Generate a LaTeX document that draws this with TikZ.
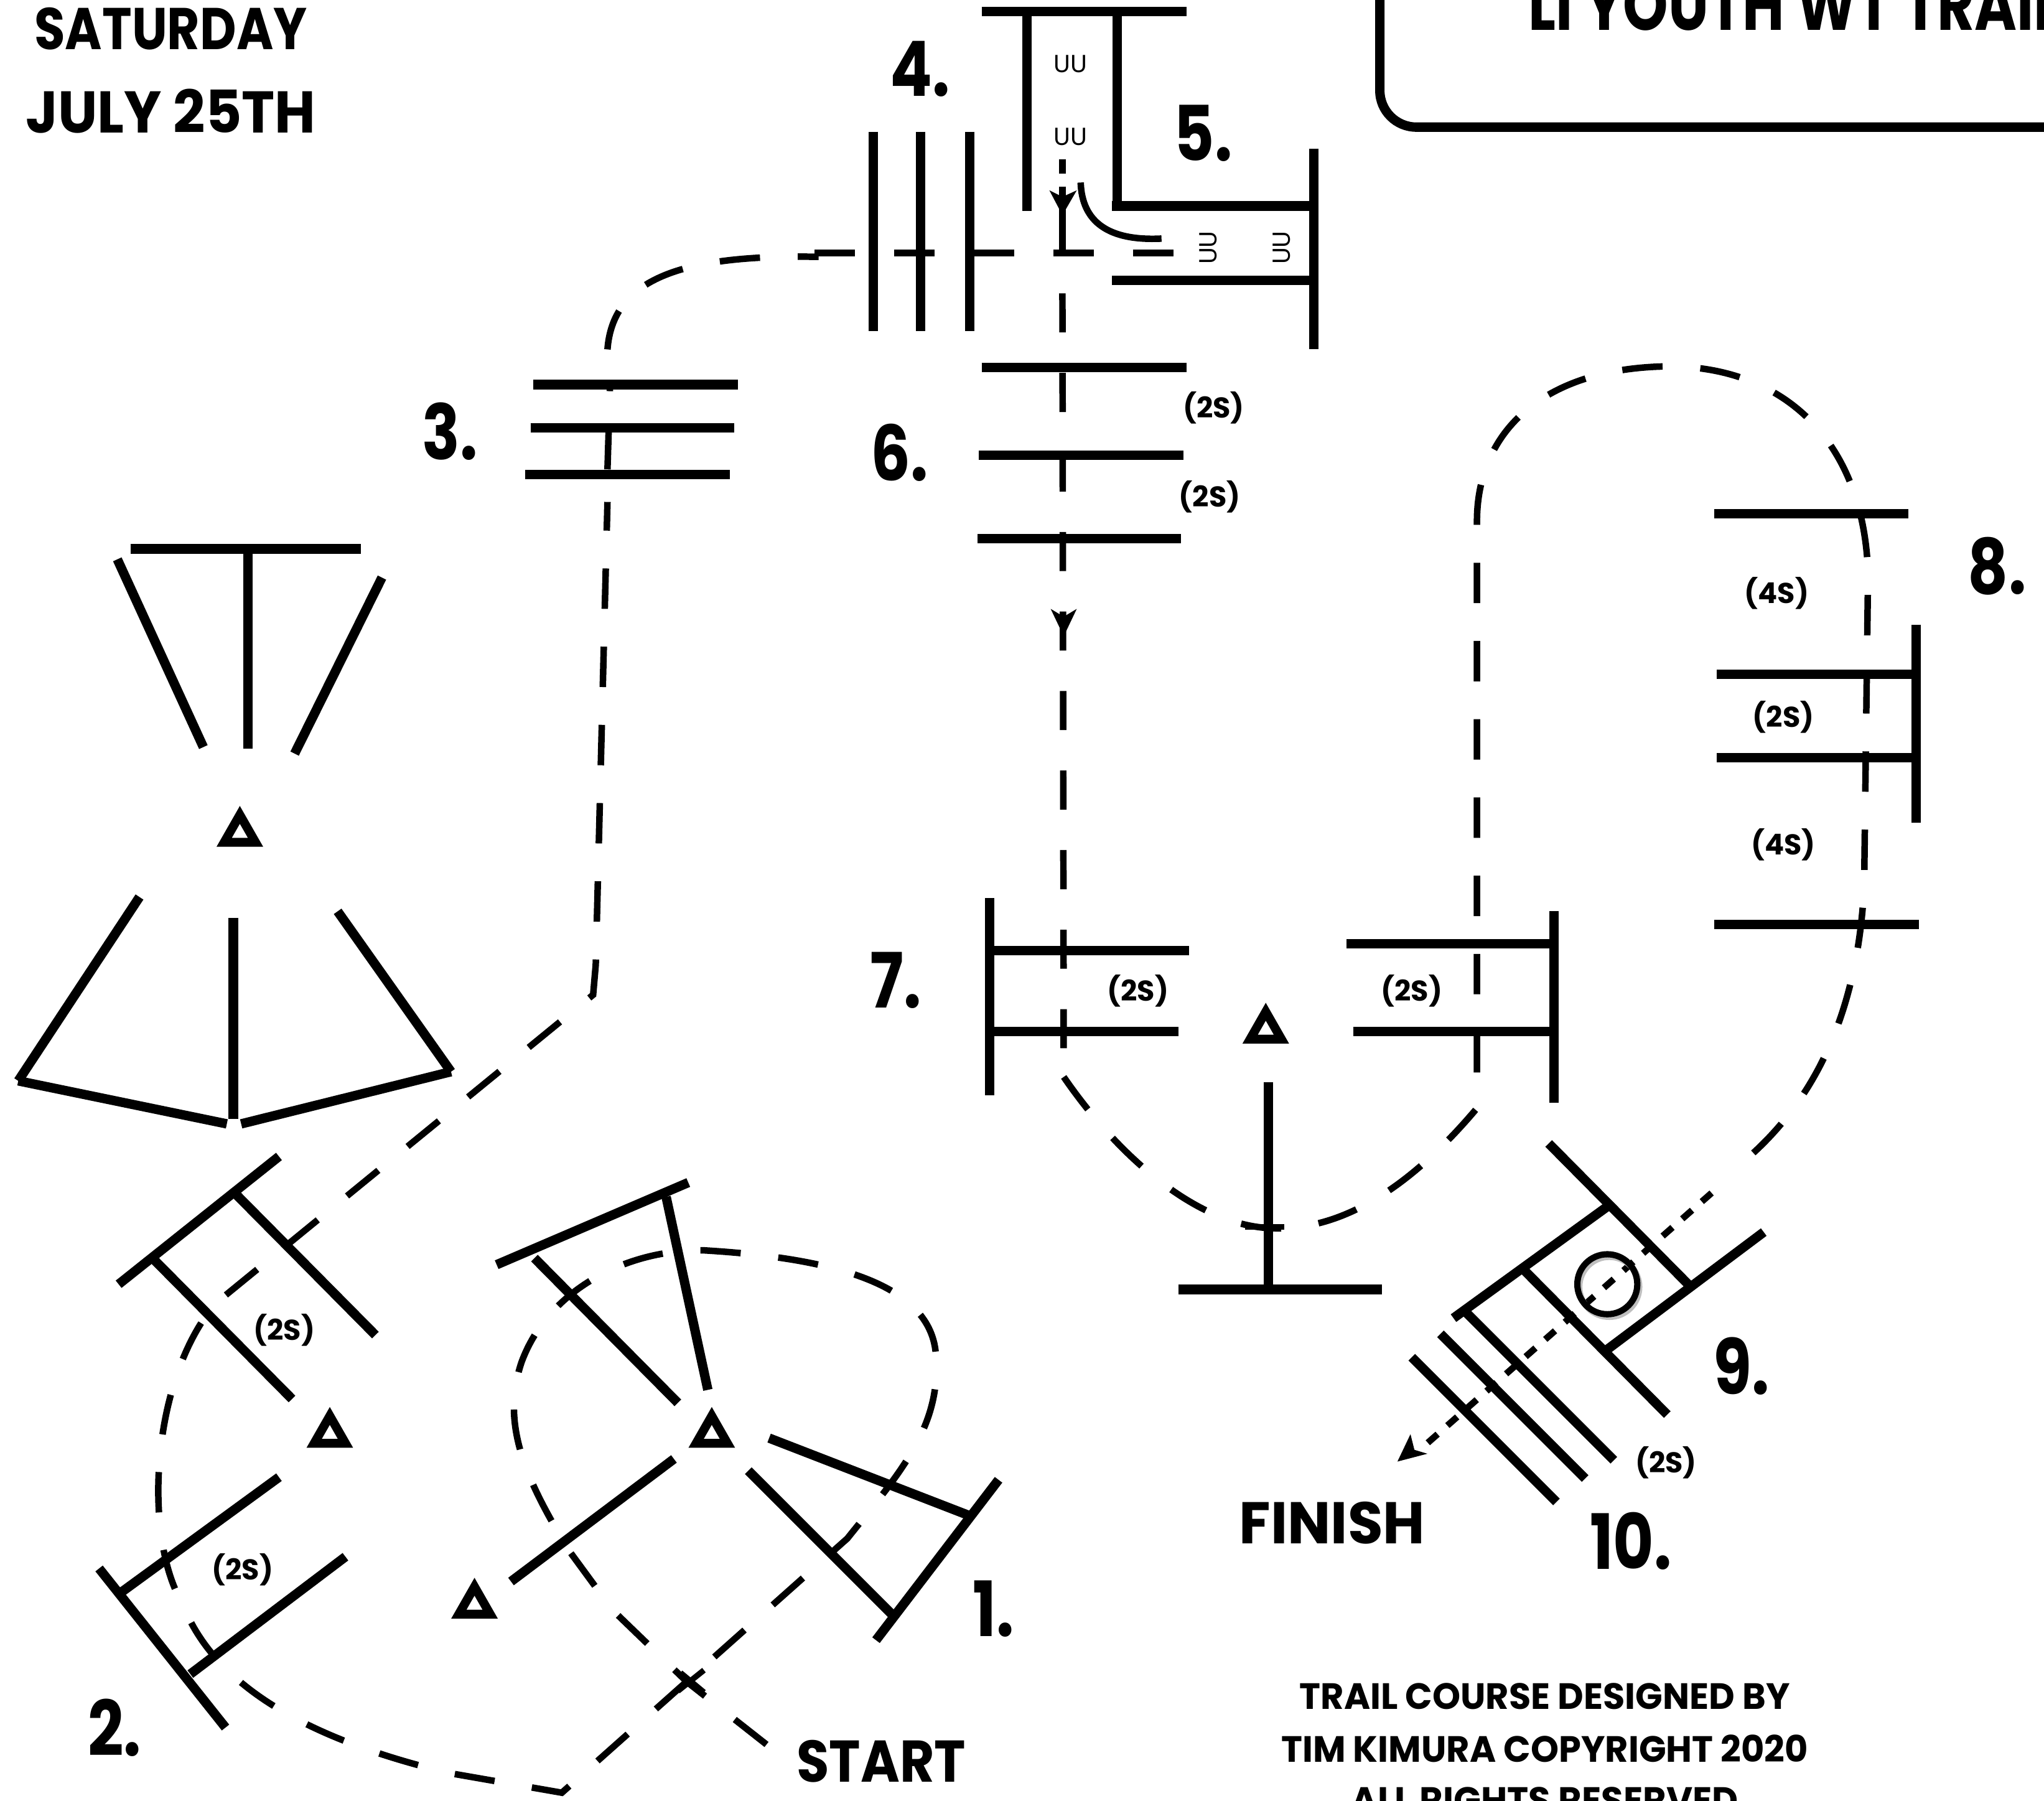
\documentclass[tikz,border=0pt]{standalone}
\usepackage{fontspec}
\usepackage{graphicx}
\setmainfont{Poppins}
\usetikzlibrary{arrows.meta}
\tikzset{
  pole/.style={line width=3.6pt,line cap=butt},
  trail/.style={line width=2.5pt,dash pattern=on 15.5pt off 14.5pt},
  short/.style={line width=2.5pt,dash pattern=on 5pt off 5pt},
  lab/.style={font=\bfseries\fontsize{24}{24}\selectfont,inner sep=0pt},
  big/.style={font=\bfseries\fontsize{18.5}{20}\selectfont,inner sep=0pt},
  note/.style={font=\bfseries\fontsize{11.5}{20}\selectfont,inner sep=0pt},
  sm/.style={font=\bfseries\fontsize{11}{12}\selectfont,inner sep=0pt},
  uu/.style={font=\fontsize{9.5}{10}\selectfont,inner sep=0pt},
  cone/.style={line width=3.4pt,line join=miter}
}
\newcommand{\tall}[1]{\scalebox{1}[1.22]{#1}}
\newcommand{\wide}[2]{\scalebox{#1}[1.22]{#2}}
\newcommand{\conemark}[2]{\draw[cone] (#1-12,#2+9) -- (#1+12,#2+9) -- (#1,#2-12) -- cycle;}
\begin{document}
\begin{tikzpicture}[x=0.5pt,y=-0.5pt]
\useasboundingbox (0,0) rectangle (1568,1381);
\fill[white] (0,0) rectangle (1568,1381);
% title box
\draw[line width=3.6pt,rounded corners=14pt] (1058.5,-30) -- (1058.5,97.5) -- (1600,97.5);
\begin{scope}
\clip (0,0) rectangle (1568,1381);
\node[big,anchor=base west] (title) at (1172,23) {\scalebox{1.19}[1.5]{LI YOUTH WT TRAIL}};
\node[note] (c3) at (1185,1381) {\wide{1.2}{ALL RIGHTS RESERVED}};
\end{scope}
\node[big] (sat) at (131,22) {\wide{1.04}{SATURDAY}};
\node[big] (jul) at (131,85) {\wide{1.16}{JULY 25TH}};
% numbers
\node[lab] (n1) at (762,1234) {\tall{1.}};
\node[lab] (n2) at (88,1325) {\tall{2.}};
\node[lab] (n3) at (345,331) {\tall{3.}};
\node[lab] (n4) at (706,53) {\tall{4.}};
\node[lab] (n5) at (923,102) {\tall{5.}};
\node[lab] (n6) at (690,347) {\tall{6.}};
\node[lab] (n7) at (687,752) {\tall{7.}};
\node[lab] (n8) at (1532,434) {\tall{8.}};
\node[lab] (n9) at (1336,1048) {\tall{9.}};
\node[lab] (n10) at (1251,1182) {\tall{10.}};
\node[big] (start) at (676,1351) {\wide{1.1}{START}};
\node[big] (finish) at (1022,1168) {\wide{1.19}{FINISH}};
\node[note] (c1) at (1185,1301) {\wide{1.19}{TRAIL COURSE DESIGNED BY}};
\node[note] (c2) at (1185,1341) {\wide{1.19}{TIM KIMURA COPYRIGHT 2020}};
% gait labels
\foreach \x/\y/\t in {931/313/(2S),928/381/(2S),1363/455/(4S),1368/550/(2S),1368/648/(4S),873/760/(2S),1083/760/(2S),218/1020/(2S),186/1204/(2S),1278/1122/(2S)}
  \node[sm] at (\x,\y) {\t};
\node[uu] (u1) at (821,49) {UU};
\node[uu] (u2) at (821,105) {UU};
\node[uu,rotate=90] (u3) at (927,190) {UU};
\node[uu,rotate=90] (u4) at (983,190) {UU};
% trail
\draw[trail] (588,1338) -- (527,1290) -- (470,1235) -- (437,1190)
  .. controls (400,1130) and (385,1090) .. (400,1045)
  .. controls (420,990) and (480,958) .. (540,959)
  .. controls (640,965) and (715,985) .. (718,1040)
  .. controls (722,1095) and (690,1130) .. (650,1180)
  -- (431,1375) -- (345,1360)
  .. controls (240,1335) and (165,1295) .. (140,1230)
  .. controls (110,1180) and (115,1060) .. (165,1000)
  -- (455,763) -- (457,740) -- (466,385);
\draw[trail] (466,360) -- (468,295);
\draw[trail] (466,268)
  .. controls (470,215) and (520,195) .. (628,197);
\draw[trail,dash pattern=on 15.5pt off 15pt] (625,194) -- (901,194);
\draw[line width=2.5pt] (815,122) -- (815,133);
\draw[line width=2.5pt] (815,143) -- (815,194);
\draw[trail,dash pattern=on 15pt off 15.5pt] (815,225) -- (816,826);
\draw[trail] (816,826)
  .. controls (860,890) and (920,940) .. (975,942)
  .. controls (1040,945) and (1095,895) .. (1133,850)
  -- (1133,400)
  .. controls (1133,330) and (1185,282) .. (1280,281)
  .. controls (1370,281) and (1430,340) .. (1433,440)
  -- (1430,680)
  .. controls (1425,780) and (1390,850) .. (1330,897);
\draw[short] (1313,915) -- (1088,1113);
% poles
\foreach \a/\b/\c/\d in {
 753/9/910/9, 788/9/788/162, 857/9/857/157, 853/158/1010/158, 853/215/1008/215, 1008/114/1008/268,
 670/101/670/254, 706/101/706/254, 744/101/744/254,
 409/295/566/295, 407/328/563/328, 403/364/560/364,
 753/282/910/282, 751/349/908/349, 750/413/906/413,
 100/421/277/421, 190/421/190/574, 90/429/156/573, 293/443/226/578,
 107/688/14/829, 14/829/174/862, 179/704/179/858, 185/862/346/822, 346/822/259/699,
 759/689/759/840, 762/729/912/729, 762/791/904/791,
 1033/724/1192/724, 1038/791/1192/791, 1192/699/1192/846,
 973/830/973/989, 904/989/1060/989,
 1315/394/1464/394, 1317/517/1470/517, 1317/581/1470/581, 1470/479/1470/631, 1315/709/1472/709,
 1188/877/1297/987, 1115/1011/1235/924, 1168/973/1279/1085, 1233/1035/1353/945,
 1125/1007/1238/1120, 1105/1023/1216/1134, 1083/1041/1194/1152,
 91/985/214/887, 117/965/224/1073, 181/916/288/1024,
 76/1203/173/1325, 92/1222/214/1133, 146/1284/265/1194,
 381/970/528/907, 410/965/520/1076, 511/918/543/1066,
 590/1103/745/1163, 766/1135/672/1258, 574/1128/685/1239, 392/1213/517/1119
}{ \draw[pole] (\a,\b) -- (\c,\d); }
% cones
\conemark{184}{637}
\conemark{971}{788}
\conemark{253}{1098}
\conemark{546}{1098}
\conemark{364}{1229}
% arrowheads
\fill (805,146) -- (815,151) -- (826,146) -- (815,165) -- cycle;
\fill (806,467) -- (816,473) -- (826,467) -- (816,488) -- cycle;
\fill (1072,1121) -- (1082,1100) -- (1085,1112) -- (1095,1115) -- cycle;
% small items
\draw[line width=2.5pt] (829,140) .. controls (830,170) and (850,185) .. (891,183);
\draw[line width=2pt] (955,941) -- (985,941);
\draw[line width=2.2pt] (520,1297) -- (540,1281);
\draw[line width=2.2pt] (522,1283) -- (540,1298);
\draw[gray!50,line width=2.4pt] (1234.5,987) circle[radius=23];
\draw[line width=2.4pt] (1233,985) circle[radius=23];
\end{tikzpicture}
\end{document}
